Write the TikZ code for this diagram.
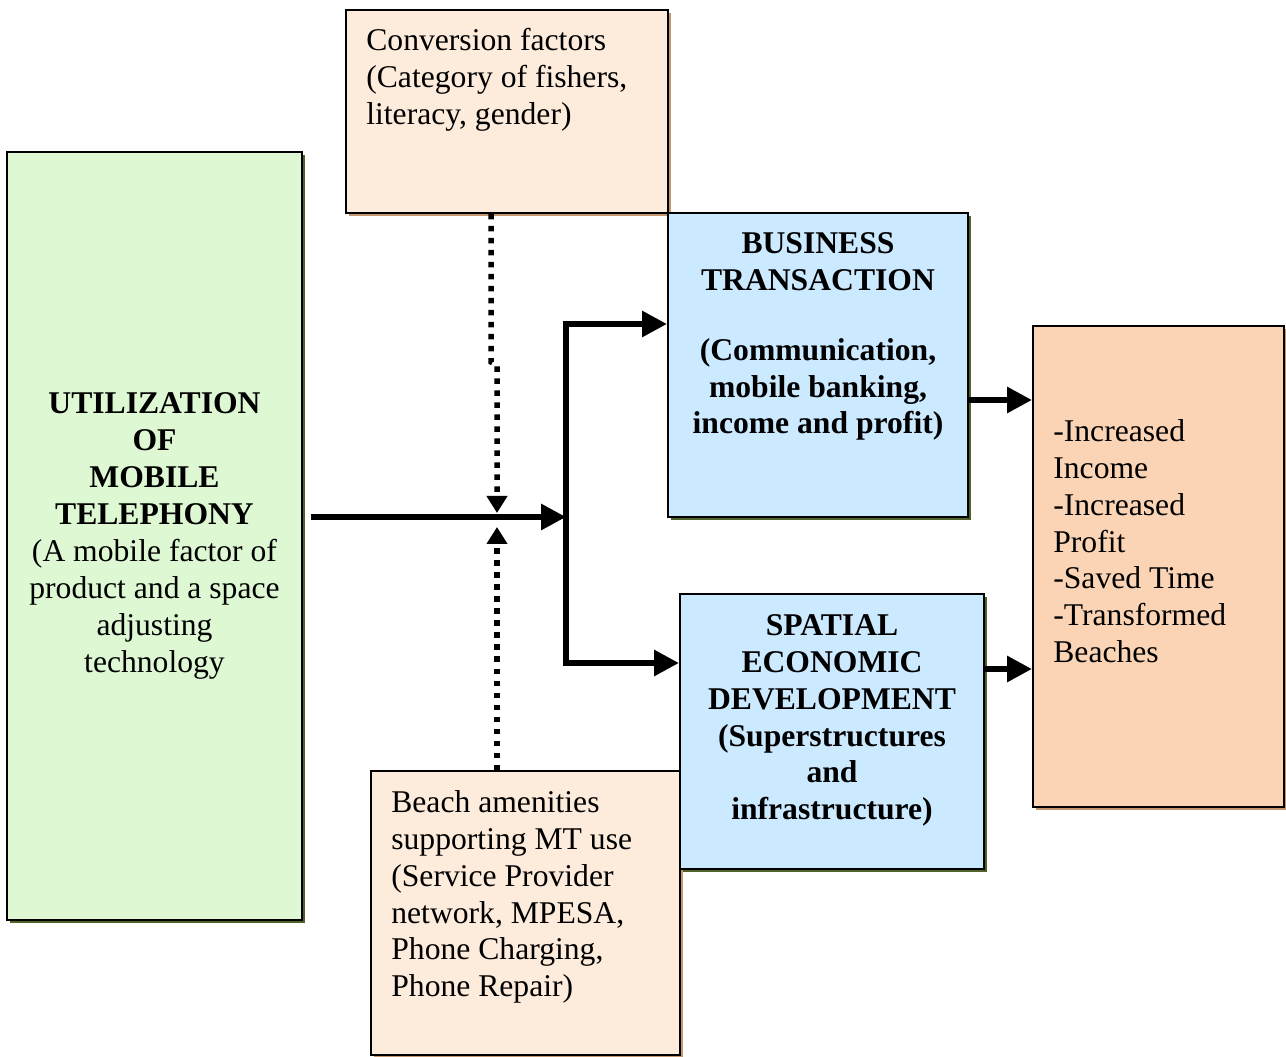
\documentclass[tikz,border=0pt]{standalone}
\usepackage{fontspec}
\setmainfont{Liberation Serif}
\usetikzlibrary{arrows.meta,shadows}

\definecolor{mtgreen}{RGB}{221,248,211}
\definecolor{mtpeach}{RGB}{253,235,220}
\definecolor{mtblue}{RGB}{204,234,255}
\definecolor{mtorange}{RGB}{250,212,180}
\definecolor{oliveshade}{RGB}{79,98,40}
\definecolor{tanshade}{RGB}{196,150,110}

\begin{document}
\begin{tikzpicture}[
    box/.style={draw=black, line width=0.04cm, inner sep=0pt,
        font=\fontsize{18}{21}\selectfont},
    oliveshadow/.style={drop shadow={shadow xshift=0.06cm, shadow yshift=-0.06cm,
        fill=oliveshade, opacity=1}},
    tanshadow/.style={drop shadow={shadow xshift=0.06cm, shadow yshift=-0.06cm,
        fill=tanshade, opacity=1}},
    txt/.style={inner sep=0pt, font=\fontsize{18}{21}\selectfont},
    flow/.style={line width=0.12cm, -{Triangle[length=0.5cm,width=0.5cm]}},
    dotflow/.style={line width=0.11cm, dash pattern=on 0.11cm off 0.13cm,
        -{Triangle[length=0.34cm,width=0.4cm]}}
]
    \useasboundingbox (0,0) rectangle (25.72,-21.14);

    % Left box: the driver
    \node[box, oliveshadow, fill=mtgreen, align=center,
          minimum width=5.9cm, minimum height=15.36cm] (util) at (3.09,-10.72)
        {\textbf{UTILIZATION}\\\textbf{OF}\\\textbf{MOBILE}\\\textbf{TELEPHONY}\\
         (A mobile factor of\\product and a space\\adjusting\\technology};

    % Conversion factors on top
    \node[box, tanshadow, fill=mtpeach, minimum width=6.44cm, minimum height=4.06cm]
        (conv) at (10.14,-2.23) {};
    \node[txt, align=left, anchor=north west] (convtxt)
        at ([shift={(0.42,-0.38)}]conv.north west)
        {Conversion factors\\(Category of fishers,\\literacy, gender)};

    % The two outcome areas
    \node[box, oliveshadow, fill=mtblue, minimum width=6.0cm, minimum height=6.08cm]
        (biz) at (16.36,-7.30) {};
    \node[txt, align=center, anchor=north, font=\fontsize{18}{21}\selectfont\bfseries]
        (biztxt) at ([yshift=-0.4cm]biz.north)
        {BUSINESS\\TRANSACTION\\[0.66cm](Communication,\\mobile banking,\\income and profit)};

    % Beach amenities at the bottom
    \node[box, tanshadow, fill=mtpeach, minimum width=6.18cm, minimum height=5.68cm]
        (beach) at (10.51,-18.26) {};
    \node[txt, align=left, anchor=north west] (beachtxt)
        at ([shift={(0.42,-0.4)}]beach.north west)
        {Beach amenities\\supporting MT use\\(Service Provider\\network, MPESA,\\Phone Charging,\\Phone Repair)};

    \node[box, oliveshadow, fill=mtblue, minimum width=6.08cm, minimum height=5.5cm]
        (spatial) at (16.64,-14.63) {};
    \node[txt, align=center, anchor=north, font=\fontsize{18}{21}\selectfont\bfseries]
        (spatialtxt) at ([yshift=-0.42cm]spatial.north)
        {SPATIAL\\ECONOMIC\\DEVELOPMENT\\(Superstructures\\and\\infrastructure)};

    % Results
    \node[box, tanshadow, fill=mtorange, minimum width=5.02cm, minimum height=9.62cm]
        (result) at (23.17,-11.33) {};
    \node[txt, align=left, anchor=north west] (resulttxt)
        at ([shift={(0.42,-1.88)}]result.north west)
        {-Increased\\Income\\-Increased\\Profit\\-Saved Time\\-Transformed\\Beaches};

    % Junction points of the arrows
    \coordinate (start) at (6.22,-10.34);
    \coordinate (bus) at (11.32,-10.34);
    \coordinate (cross) at (9.94,-10.34);

    % Main flow and its two branches
    \draw[flow] (start) -- (bus);
    \draw[flow] (bus) |- ([yshift=0.82cm]biz.west);
    \draw[flow] (bus) |- ([yshift=1.37cm]spatial.west);

    % Into the results box
    \path ([yshift=-0.7cm]biz.east) coordinate (bizout);
    \path ([yshift=1.25cm]spatial.east) coordinate (spatialout);
    \draw[flow] (bizout) -- (bizout -| result.west);
    \draw[flow] (spatialout) -- (spatialout -| result.west);

    % Moderating factors
    \draw[dotflow] ([xshift=-0.32cm]conv.south) -- ++(0,-2.96) -- ++(0.12,-0.06)
        -- ([yshift=0.08cm]cross);
    \draw[dotflow] (cross |- beach.north) -- ([yshift=-0.2cm]cross);
\end{tikzpicture}
\end{document}
